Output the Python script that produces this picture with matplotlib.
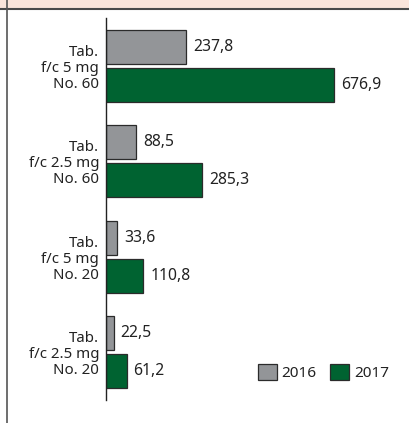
import matplotlib
matplotlib.use('Agg')
import matplotlib.pyplot as plt
import numpy as np

## data
categories = ['Tab.\nf/c 5 mg\nNo. 60', 'Tab.\nf/c 2.5 mg\nNo. 60',
              'Tab.\nf/c 5 mg\nNo. 20', 'Tab.\nf/c 2.5 mg\nNo. 20']
values_2016 = [237.8, 88.5, 33.6, 22.5]
values_2017 = [676.9, 285.3, 110.8, 61.2]
labels_2016 = ['237,8', '88,5', '33,6', '22,5']
labels_2017 = ['676,9', '285,3', '110,8', '61,2']
years = ['2016', '2017']

W, H = 410, 423
grey = '#939598'
green = '#006331'
edge = '#2b2b2b'
txt = '#222222'
plt.rcParams['font.family'] = ['Noto Sans', 'DejaVu Sans']

fig = plt.figure(figsize=(W / 100, H / 100), dpi=100)
fig.patch.set_facecolor('white')

# pink header band and frame lines (figure pixel coords)
fig.patches.append(plt.Rectangle((0, 1 - 9 / H), 1, 9 / H, transform=fig.transFigure,
                                 facecolor='#fbe5db', edgecolor='none', zorder=0))
fig.lines.append(plt.Line2D([0, 1], [1 - 9.5 / H] * 2, transform=fig.transFigure,
                            color='#4a4a4a', lw=1.5))
fig.lines.append(plt.Line2D([7.5 / W] * 2, [0, 1], transform=fig.transFigure,
                            color='#555555', lw=1.2))

# axes: x from 106 px to 400 px, y from 18 px to 400 px
px_per_unit = (334 - 106) / 676.9
ax_left, ax_right = 106, 400
ax_top, ax_bot = 18, 400
ax = fig.add_axes([ax_left / W, 1 - ax_bot / H, (ax_right - ax_left) / W, (ax_bot - ax_top) / H])
ax.set_xlim(0, (ax_right - ax_left) / px_per_unit)
ax.set_ylim(3.5, -0.5)
ax.patch.set_alpha(0)

y = np.arange(len(categories))
h = 0.358
off = 0.199
ax.barh(y - off, values_2016, height=h, color=grey, edgecolor=edge, linewidth=0.9, label=years[0])
ax.barh(y + off, values_2017, height=h, color=green, edgecolor=edge, linewidth=0.9, label=years[1])

pad = 7 / px_per_unit
for i in range(len(categories)):
    ax.text(values_2016[i] + pad, y[i] - off, labels_2016[i], va='center', ha='left',
            fontsize=11.3, color=txt)
    ax.text(values_2017[i] + pad, y[i] + off, labels_2017[i], va='center', ha='left',
            fontsize=11.3, color=txt)

ax.set_yticks(y)
ax.set_yticklabels(categories, fontsize=10.8, color=txt, linespacing=1.08)
ax.tick_params(axis='y', length=0, pad=5)
ax.set_xticks([])
for s in ['top', 'right', 'bottom']:
    ax.spines[s].set_visible(False)
ax.spines['left'].set_color(txt)
ax.spines['left'].set_linewidth(1.0)

leg = ax.legend(loc='lower left', bbox_to_anchor=(250 / W, 1 - 389 / H), bbox_transform=fig.transFigure,
                ncol=2, frameon=False, fontsize=11, handlelength=1.25, handleheight=1.2,
                handletextpad=0.3, columnspacing=0.9, borderpad=0)
for t in leg.get_texts():
    t.set_color(txt)

fig.savefig('out.png', dpi=100)
